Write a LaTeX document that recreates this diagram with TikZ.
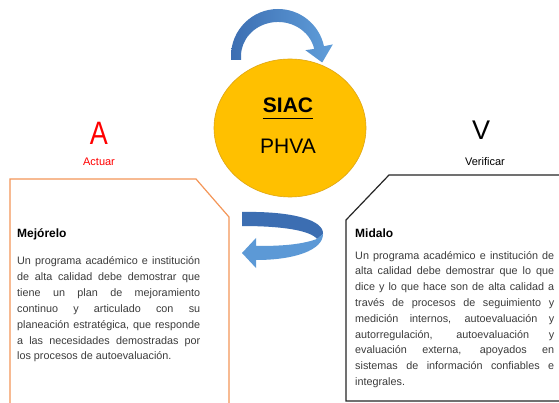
\documentclass[tikz,border=0pt]{standalone}
\usepackage{fontspec}
\usepackage{graphicx}
\setmainfont{Liberation Sans}
\usetikzlibrary{shapes.geometric,positioning}

\definecolor{siacfill}{RGB}{255,192,0}
\definecolor{siacline}{RGB}{222,165,20}
\definecolor{actline}{RGB}{244,150,88}
\definecolor{actred}{RGB}{255,0,0}
\definecolor{arrowdark}{RGB}{60,110,178}
\definecolor{arrowlight}{RGB}{96,158,218}
\definecolor{bodytext}{RGB}{60,60,60}

\tikzset{
  siacball/.style={ellipse, draw=siacline, fill=siacfill, line width=0.6pt,
    minimum width=152pt, minimum height=138pt, inner sep=0pt},
  bigtxt/.style={inner sep=0pt, font=\fontsize{21}{24}\selectfont},
  letter/.style={inner sep=0pt, font=\fontsize{27}{30}\selectfont},
  word/.style={inner sep=0pt, font=\fontsize{11}{13}\selectfont},
  actbox/.style={draw=actline, line width=1.2pt},
  verbox/.style={draw=black!85, line width=1.2pt},
  head/.style={inner sep=0pt, anchor=base west, font=\bfseries\fontsize{12}{14}\selectfont},
  body/.style={inner sep=0pt, anchor=base west, align=justify, text=bodytext,
    font=\fontsize{10.8}{15.8}\selectfont}
}

\begin{document}
\begin{tikzpicture}[x=1pt,y=-1pt]
      \useasboundingbox (0,0) rectangle (559,403);
      \fill[white] (0,0) rectangle (559,403);
      \clip (0,0) rectangle (559,403);
      % SIAC circle
      \node[siacball] (siac) at (290,128) {};
      \node[bigtxt, anchor=base, font=\bfseries\fontsize{21}{24}\selectfont] (siactxt) at (288,113) {SIAC};
      \draw[line width=1.8pt] ([yshift=-5.5pt]siactxt.base west) -- ([yshift=-5.5pt]siactxt.base east);
      \node[bigtxt, anchor=base] (phva) at (288,154) {PHVA};
      % top arrow
      \shade[left color=arrowdark, right color=arrowlight]
        (231,60) -- (231,56) arc[start angle=180, end angle=348, radius=47]
        -- (332.8,44.4) -- (322.2,62.5) -- (305.4,50.2) -- (314.2,48.9)
        arc[start angle=348, end angle=180, x radius=37, y radius=34] -- (241,60) -- cycle;
      % bottom arrow
      \fill[arrowdark] (242,212) .. controls (292,211) and (324,220) .. (323,234)
        -- (317,239) .. controls (310,230) and (280,226) .. (242,226) -- cycle;
      \fill[arrowlight!90!arrowdark] (317,239) .. controls (300,245) and (280,246) .. (256,246)
        -- (256,238) -- (242,253) -- (256,268) -- (256,260)
        .. controls (295,260) and (323,250) .. (323,234) -- cycle;
      % Actuar
      \node[letter, anchor=base, text=actred] (a) at (99,145) {\scalebox{1}[1.2]{A}};
      \node[word, anchor=base, text=actred] (act) at (99,166) {Actuar};
      \draw[actbox] (10,410) -- (10,179) -- (196,179) -- (229,217) -- (229,410);
      \node[head] (mej) at (17,238) {Mejórelo};
      \node[body, text width=183pt] (mejtxt) at (17,265) {Un programa académico e institución\linebreak
        de alta calidad debe demostrar que\linebreak
        tiene un plan de mejoramiento\linebreak
        continuo y articulado con su\linebreak
        planeación estratégica, que responde\linebreak
        a las necesidades demostradas por\linebreak
        los procesos de autoevaluación.};
      % Verificar
      \node[letter, anchor=base] (v) at (481,140) {V};
      \node[word, anchor=base] (ver) at (485,166) {Verificar};
      \draw[verbox] (570,175) -- (389,175) -- (346,220) -- (346,401) -- (570,401);
      \node[head] (mid) at (355,238) {Midalo};
      \node[body, text width=199pt] (midtxt) at (355,259) {Un programa académico e institución de\linebreak
        alta calidad debe demostrar que lo que\linebreak
        dice y lo que hace son de alta calidad a\linebreak
        través de procesos de seguimiento y\linebreak
        medición internos, autoevaluación y\linebreak
        autorregulación, autoevaluación y\linebreak
        evaluación externa, apoyados en\linebreak
        sistemas de información confiables e\linebreak
        integrales.};
    \end{tikzpicture}
\end{document}
